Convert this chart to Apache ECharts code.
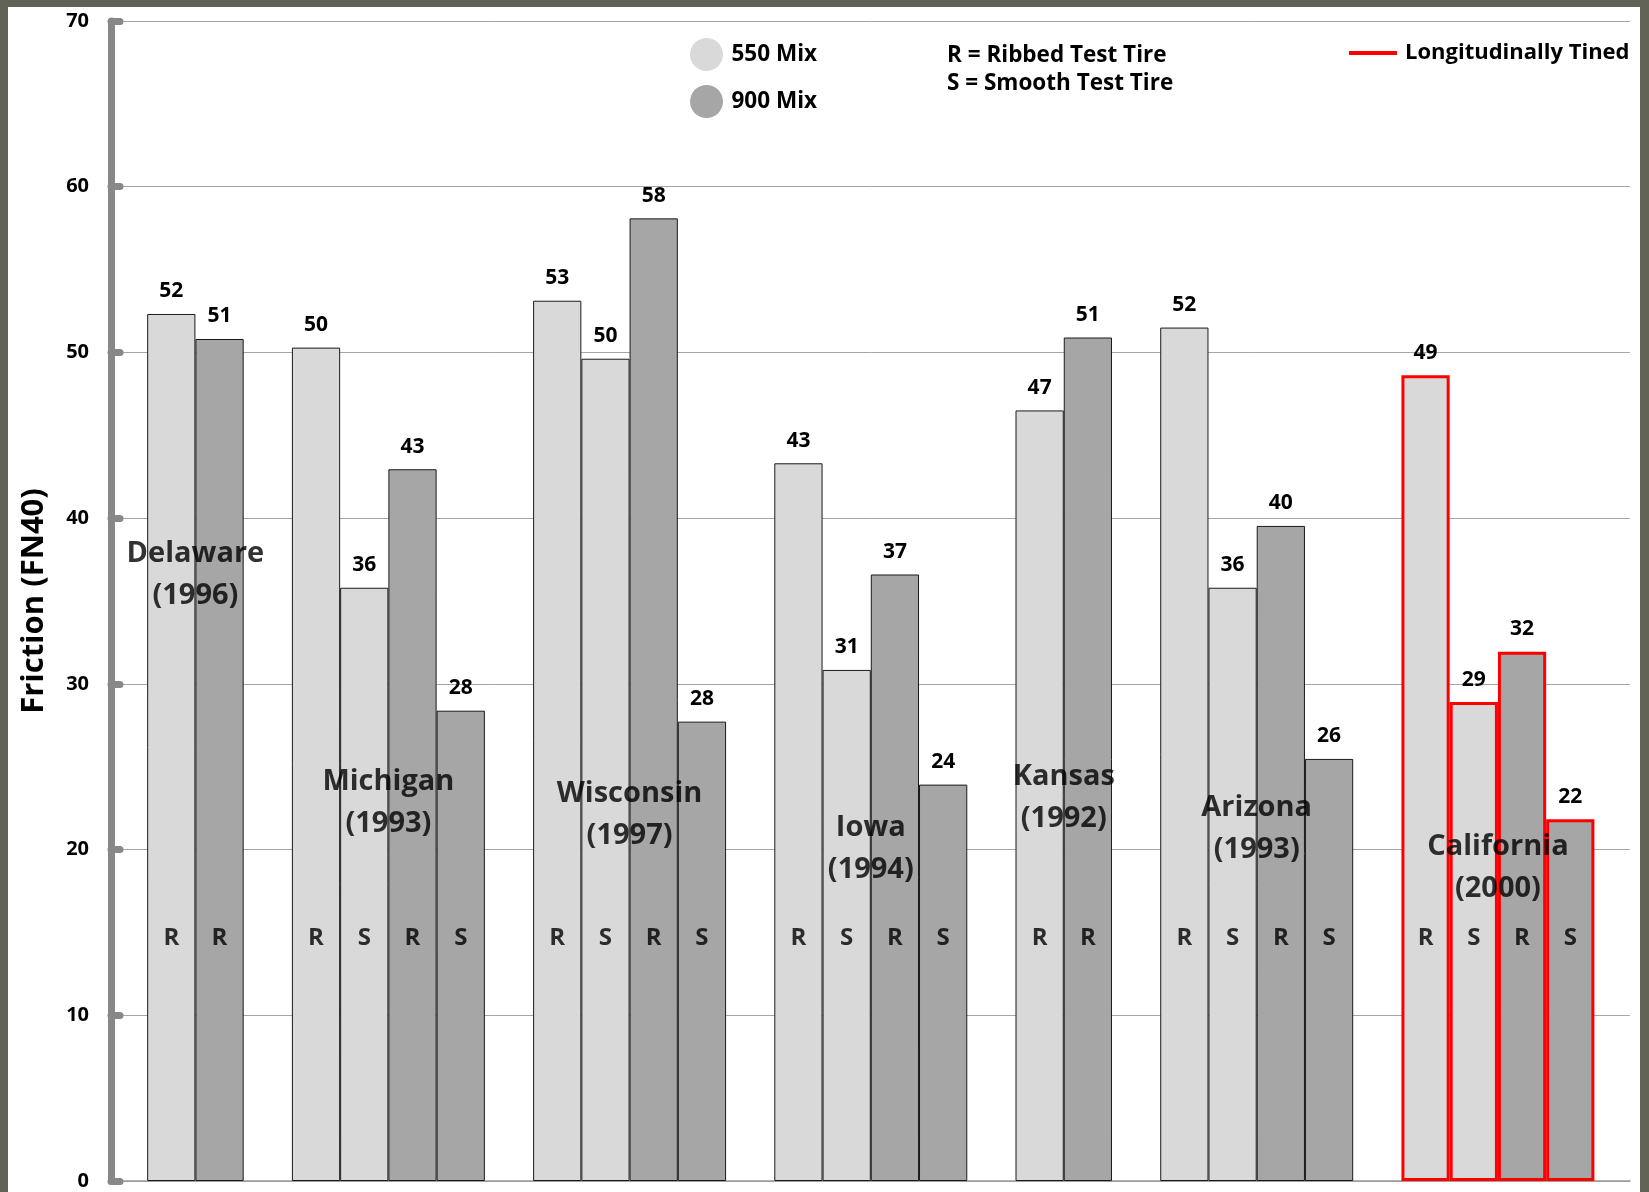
<!DOCTYPE html>
<html>
<head>
<meta charset="utf-8">
<script src="https://cdn.jsdelivr.net/npm/echarts@6/dist/echarts.min.js"></script>
<style>
html,body{margin:0;padding:0;width:1649px;height:1192px;background:#5f6254;overflow:hidden;}
#chart{position:absolute;left:8px;top:7px;width:1632px;height:1185px;background:#ffffff;}
</style>
</head>
<body>
<div id="chart"></div>
<script>
// ---------------- data ----------------
const sites = ['Delaware', 'Michigan', 'Wisconsin', 'Iowa', 'Kansas', 'Arizona', 'California'];
const years = ['1996', '1993', '1997', '1994', '1992', '1993', '2000'];
const tined = [false, false, false, false, false, false, true];
const tires = [['R'], ['R', 'S'], ['R', 'S'], ['R', 'S'], ['R'], ['R', 'S'], ['R', 'S']];
const mix550 = [[52.32], [50.29, 35.8], [53.12, 49.62], [43.31, 30.84], [46.5], [51.5, 35.8], [48.62, 28.9]];
const mix900 = [[50.81], [42.95, 28.38], [58.09, 27.72], [36.6, 23.92], [50.9], [39.53, 25.47], [31.94, 21.83]];
const labels550 = [[52], [50, 36], [53, 50], [43, 31], [47], [52, 36], [49, 29]];
const labels900 = [[51], [43, 28], [58, 28], [37, 24], [51], [40, 26], [32, 22]];
const yTicks = [0, 10, 20, 30, 40, 50, 60, 70];

// ---------------- layout (annotation placement in axis units) ----------------
const siteLabelAt = [36.57, 22.84, 22.09, 20.03, 23.14, 21.24, 18.89];
const tireLabelAt = 14.66;
const X_MIN = -0.75, X_MAX = 30.738;
const GRID = {left: 103, top: 14, right: 10, bottom: 11};
const CHART_W = 1632;
const BAR_W = (CHART_W - GRID.left - GRID.right) / (X_MAX - X_MIN);
const FONT = '"Open Sans", "Liberation Sans", "DejaVu Sans", sans-serif';

// ---------------- build series data ----------------
const bars550 = [], bars900 = [], tireMarks = [], siteMarks = [];
let slot = 0;
sites.forEach((site, i) => {
  const xs = [];
  const border = tined[i] ? {borderColor: '#ff0000', borderWidth: 3} : {};
  mix550[i].forEach((v, j) => {
    const x = slot + 0.5;
    bars550.push({value: [x, v], lbl: labels550[i][j], itemStyle: border});
    tireMarks.push({value: [x, tireLabelAt], tire: tires[i][j]});
    xs.push(x); slot++;
  });
  mix900[i].forEach((v, j) => {
    const x = slot + 0.5;
    bars900.push({value: [x, v], lbl: labels900[i][j], itemStyle: border});
    tireMarks.push({value: [x, tireLabelAt], tire: tires[i][j]});
    xs.push(x); slot++;
  });
  const cx = xs.reduce((a, b) => a + b, 0) / xs.length;
  siteMarks.push({value: [cx, siteLabelAt[i]], txt: site + '\n(' + years[i] + ')'});
  slot++;
});

const valueLabel = {
  show: true, position: 'top', distance: 12,
  formatter: p => String(p.data.lbl),
  fontSize: 21, fontWeight: 'bold', color: '#000', fontFamily: FONT
};
const ellipse = 'path://M0,50 A50,50 0 1,1 100,50 A50,50 0 1,1 0,50 Z';

const option = {
  animation: false,
  backgroundColor: '#ffffff',
  textStyle: {fontFamily: FONT, fontWeight: 'bold'},
  grid: Object.assign({containLabel: false, outerBoundsMode: 'none'}, GRID),
  legend: {
    data: ['550 Mix', '900 Mix'],
    orient: 'vertical',
    left: 677, top: 26,
    itemWidth: 40, itemHeight: 33, itemGap: 14,
    icon: ellipse,
    itemStyle: {borderWidth: 0},
    selectedMode: false,
    textStyle: {fontSize: 22.5, fontWeight: 'bold', color: '#000', fontFamily: FONT}
  },
  xAxis: {
    type: 'value', min: X_MIN, max: X_MAX,
    axisLine: {show: true, onZero: false, lineStyle: {color: '#9a9a9a', width: 1.5}},
    axisTick: {show: false}, axisLabel: {show: false}, splitLine: {show: false}
  },
  yAxis: {
    type: 'value', min: yTicks[0], max: yTicks[yTicks.length - 1], interval: yTicks[1] - yTicks[0],
    name: 'Friction (FN40)', nameLocation: 'middle', nameGap: 61,
    nameTextStyle: {fontSize: 31, fontWeight: 'bold', color: '#000', fontFamily: FONT},
    axisLine: {show: true, onZero: false, lineStyle: {color: '#888888', width: 7, cap: 'round'}},
    axisTick: {show: true, inside: true, length: 9, lineStyle: {color: '#888888', width: 7, cap: 'round'}},
    axisLabel: {margin: 22, fontSize: 20, fontWeight: 'bold', color: '#000', fontFamily: FONT},
    splitLine: {show: true, lineStyle: {color: '#a6a6a6', width: 1}}
  },
  series: [
    {
      type: 'bar', name: '550 Mix', data: bars550, barWidth: BAR_W, barGap: '-100%',
      itemStyle: {color: '#d9d9d9', borderColor: '#1a1a1a', borderWidth: 1},
      label: valueLabel, emphasis: {disabled: true}
    },
    {
      type: 'bar', name: '900 Mix', data: bars900, barWidth: BAR_W, barGap: '-100%',
      itemStyle: {color: '#a6a6a6', borderColor: '#1a1a1a', borderWidth: 1},
      label: valueLabel, emphasis: {disabled: true}
    },
    {
      type: 'scatter', name: 'tire', data: tireMarks, symbolSize: 1, silent: true, z: 5,
      itemStyle: {color: 'rgba(0,0,0,0)'},
      label: {show: true, position: 'inside', formatter: p => p.data.tire,
        fontSize: 24, fontWeight: 'bold', color: '#000', fontFamily: FONT},
      emphasis: {disabled: true}
    },
    {
      type: 'scatter', name: 'site', data: siteMarks, symbolSize: 1, silent: true, z: 6,
      itemStyle: {color: 'rgba(0,0,0,0)'},
      label: {show: true, position: 'inside', formatter: p => p.data.txt,
        fontSize: 29, lineHeight: 42, fontWeight: 'bold', color: '#000', fontFamily: FONT, align: 'center'},
      emphasis: {disabled: true}
    }
  ],
  graphic: [
    {type: 'text', x: 939, y: 49, style: {text: 'R = Ribbed Test Tire', fill: '#000',
      font: 'bold 22.5px ' + FONT, verticalAlign: 'middle'}},
    {type: 'text', x: 939, y: 77, style: {text: 'S = Smooth Test Tire', fill: '#000',
      font: 'bold 22.5px ' + FONT, verticalAlign: 'middle'}},
    {type: 'rect', shape: {x: 1341, y: 44, width: 48, height: 4}, style: {fill: '#ff0000'}},
    {type: 'text', x: 1397, y: 46, style: {text: 'Longitudinally Tined', fill: '#000',
      font: 'bold 22px ' + FONT, verticalAlign: 'middle'}}
  ]
};

const chart = echarts.init(document.getElementById('chart'), null, {renderer: 'canvas'});
chart.setOption(option);
</script>
</body>
</html>
